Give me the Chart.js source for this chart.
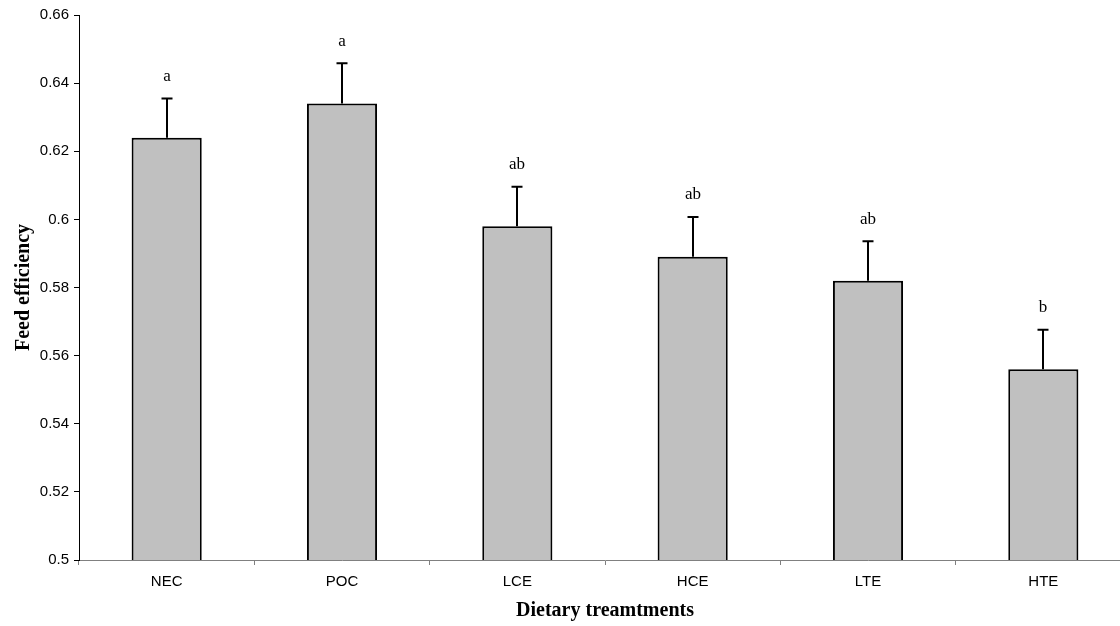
<!DOCTYPE html>
<html>
<head>
<meta charset="utf-8">
<title>Feed efficiency</title>
<script src="https://cdn.jsdelivr.net/npm/chart.js@4/dist/chart.umd.min.js"></script>
<style>
    html, body { margin: 0; padding: 0; background: #fff; overflow: hidden; }
    #wrap { width: 1140px; height: 626px; }
</style>
</head>
<body>
<div id="wrap"><canvas id="feedChart" width="1140" height="626"></canvas></div>
<script>
// Treatments and their mean feed efficiency with standard errors
const treatments = ['NEC', 'POC', 'LCE', 'HCE', 'LTE', 'HTE'];
const feedEfficiency = [0.624, 0.634, 0.598, 0.589, 0.582, 0.556];
const stdError = [0.0115, 0.0118, 0.0116, 0.0117, 0.0116, 0.0116];
const groupLetters = ['a', 'a', 'ab', 'ab', 'ab', 'b'];

// Error bars (upper only) and significance letters over each bar
const errorBarPlugin = {
    id: 'errorBars',
    afterDatasetsDraw(chart) {
        const ctx = chart.ctx;
        const yScale = chart.scales.y;
        const meta = chart.getDatasetMeta(0);

        ctx.save();
        ctx.strokeStyle = '#000';
        ctx.lineWidth = 2;
        ctx.fillStyle = '#000';
        ctx.font = '17px "Liberation Serif", "Times New Roman", serif';
        ctx.textAlign = 'center';
        ctx.textBaseline = 'middle';

        meta.data.forEach((bar, i) => {
            const x = Math.round(bar.x);
            const yTop = yScale.getPixelForValue(feedEfficiency[i]);
            const yCap = yScale.getPixelForValue(feedEfficiency[i] + stdError[i]);

            ctx.beginPath();
            ctx.moveTo(x, yTop);
            ctx.lineTo(x, yCap);
            ctx.moveTo(x - 5.5, yCap);
            ctx.lineTo(x + 5.5, yCap);
            ctx.stroke();

            ctx.fillText(groupLetters[i], x, yCap - 22);
        });
        ctx.restore();
    }
};

const tickFont = { family: '"Liberation Sans", Arial, sans-serif', size: 15 };
const titleFont = { family: '"Liberation Serif", "Times New Roman", serif', size: 20, weight: 'bold' };

new Chart(document.getElementById('feedChart'), {
    type: 'bar',
    data: {
        labels: treatments,
        datasets: [{
            data: feedEfficiency,
            backgroundColor: '#c0c0c0',
            borderColor: '#000',
            borderWidth: 2,
            borderSkipped: 'bottom',
            barPercentage: 0.4,
            categoryPercentage: 1.0
        }]
    },
    options: {
        responsive: false,
        animation: false,
        layout: { padding: { left: 0, top: 15, right: 9, bottom: 0 } },
        plugins: {
            legend: { display: false },
            tooltip: { enabled: false }
        },
        scales: {
            x: {
                grid: {
                    display: true,
                    offset: true,
                    drawOnChartArea: false,
                    drawTicks: true,
                    tickLength: 5,
                    color: '#808080'
                },
                border: { display: true, color: '#808080', width: 1 },
                ticks: { color: '#000', font: tickFont, padding: 8 },
                title: {
                    display: true,
                    text: 'Dietary treamtments',
                    color: '#000',
                    font: titleFont,
                    padding: { top: 0, bottom: 3 }
                },
                afterFit(scale) { scale.height = 66; }
            },
            y: {
                min: 0.5,
                max: 0.66,
                grid: {
                    display: true,
                    drawOnChartArea: false,
                    drawTicks: true,
                    tickLength: 5,
                    color: '#000'
                },
                border: { display: true, color: '#000', width: 1 },
                ticks: {
                    stepSize: 0.02,
                    color: '#000',
                    font: tickFont,
                    padding: 5,
                    callback: (v) => String(Number(v.toFixed(2)))
                },
                title: {
                    display: true,
                    text: 'Feed efficiency',
                    color: '#000',
                    font: titleFont,
                    padding: { top: 12, bottom: 0 }
                },
                afterFit(scale) { scale.width = 79; }
            }
        }
    },
    plugins: [errorBarPlugin]
});
</script>
</body>
</html>
